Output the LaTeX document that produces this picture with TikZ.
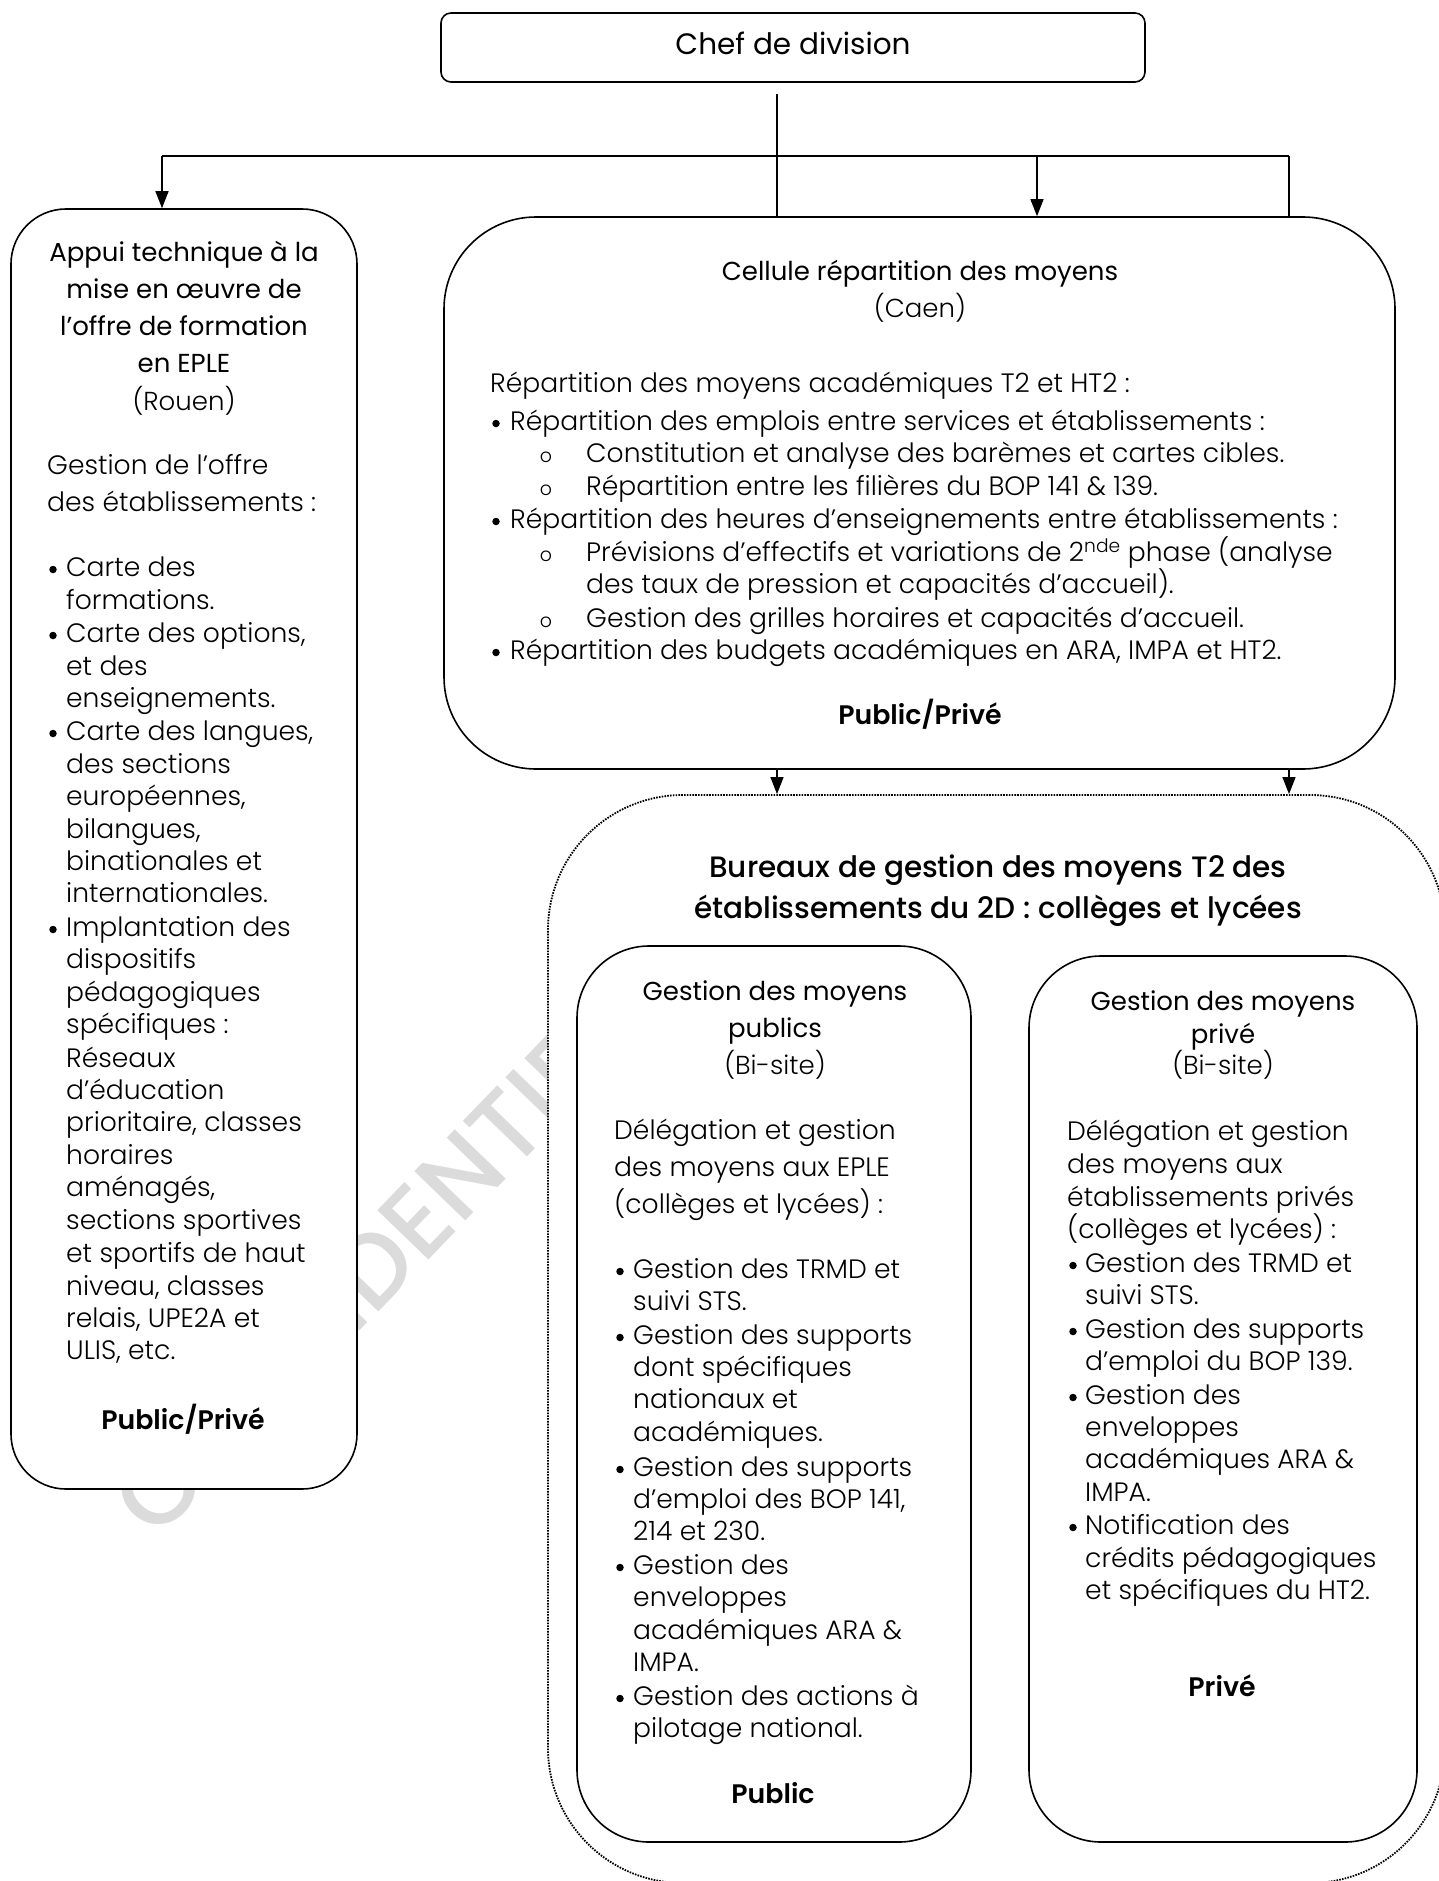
\documentclass[tikz,border=0pt]{standalone}
\usepackage{fontspec}
\setmainfont{Poppins}
\newfontfamily\flt{Poppins Light}
\newfontfamily\fmd{Poppins Medium}
\newfontfamily\fsbd{Poppins SemiBold}
\usetikzlibrary{arrows.meta}
\newcommand\fsz[1]{\fontsize{#1}{#1}\selectfont}
\tikzset{
  box/.style={draw, line width=1.6pt, fill=white, rounded corners=#1, inner sep=0pt},
  conn/.style={line width=1.3pt},
  arr/.style={line width=1.3pt, -{Triangle[length=17pt,width=13pt]}},
  hd/.style={inner sep=0pt, anchor=mid, font=\fsz{26}},
  sub/.style={inner sep=0pt, anchor=mid, font=\flt\fsz{26}},
  body/.style={inner sep=0pt, anchor=mid west, font=\flt\fsz{26.6}},
  bul/.style={circle, fill=black, inner sep=0pt, minimum size=7.5pt, yshift=4.5pt},
  obul/.style={inner sep=0pt, anchor=mid, font=\flt\fsz{19}},
  lbl/.style={inner sep=0pt, anchor=mid, font=\fsbd\fsz{26.8}},
}
\begin{document}
\begin{tikzpicture}[x=1pt,y=-1pt]
\useasboundingbox (0,0) rectangle (1439,1881);
% watermark
\node[inner sep=0pt, rotate=46, text=black!14, font=\fmd\fsz{102}] (wm) at (372,1267) {CONFIDENTIEL};
% boxes
\node[box=10, minimum width=704pt, minimum height=69pt] (chef) at (793,47.5) {};
\node[box=55, minimum width=346pt, minimum height=1280pt] (appui) at (184,849) {};
\node[box=92, minimum width=951pt, minimum height=552pt] (cell) at (919.5,493) {};
\node[draw, fill=white, line width=1.8pt, dash pattern=on 1.6pt off 1.2pt, rounded corners=135, inner sep=0pt, minimum width=897pt, minimum height=1088pt] (bur) at (996.5,1339) {};
\node[box=72, minimum width=394pt, minimum height=896pt] (pub) at (774,1394) {};
\node[box=72, minimum width=388pt, minimum height=886pt] (priv) at (1223,1399) {};
% connectors
\coordinate (c0) at (777,94);
\coordinate (hl) at (162,156);
\coordinate (hm) at (1037,156);
\coordinate (hr) at (1289,156);
\draw[conn] (c0) -- (c0 |- cell.north);
\draw[line width=2pt] (hl) -- (hr);
\draw[arr] (hl) -- (hl |- appui.north);
\draw[arr] (hm) -- (hm |- cell.north);
\draw[conn] (hr) -- (hr |- cell.north);
\draw[arr] (cell.south -| c0) -- (bur.north -| c0);
\draw[arr] (cell.south -| hr) -- (bur.north -| hr);
\begin{scope}[yshift=-7pt]
% chef
\node[hd, font=\fsz{29.5}] (chefT) at (793,45) {Chef de division};
% appui box
\foreach \y/\t [count=\i] in {252/Appui technique à la, 289/mise en œuvre de, 326/l’offre de formation, 363/en EPLE}
  \node[hd] (aH\i) at (184,\y) {\t};
\node[sub] (aS) at (184,401) {(Rouen)};
\node[body] (aI1) at (47,465) {Gestion de l’offre};
\node[body] (aI2) at (47,502) {des établissements :};
\foreach \y [count=\i] in {567,633,731,927}
  \node[bul] (aB\i) at (53,\y) {};
\foreach \y/\t [count=\i] in {567/Carte des, 600/formations., 633/{Carte des options,}, 666/et des, 698/enseignements., 731/{Carte des langues,}, 764/des sections, 796/{européennes,}, 829/{bilangues,}, 861/binationales et, 893/internationales., 927/Implantation des, 959/dispositifs, 992/pédagogiques, 1024/spécifiques :, 1058/Réseaux, 1090/d’éducation, 1122/{prioritaire, classes}, 1155/horaires, 1187/{aménagés,}, 1220/sections sportives, 1253/et sportifs de haut, 1286/{niveau, classes}, 1318/{relais, UPE2A et}, 1350/{ULIS, etc.}}
  \node[body] (aL\i) at (66,\y) {\t};
\node[lbl] (aP) at (183,1420) {Public/Privé};
% cellule
\node[hd] (cH) at (920,271) {Cellule répartition des moyens};
\node[sub] (cS) at (920,308) {(Caen)};
\node[body] (cI) at (490,383) {Répartition des moyens académiques T2 et HT2 :};
\foreach \y [count=\i] in {421,519,650}
  \node[bul] (cB\i) at (496,\y) {};
\foreach \y [count=\i] in {453,486,552,618}
  \node[obul] (cO\i) at (546,\y) {o};
\node[body] (cL1) at (510,421) {Répartition des emplois entre services et établissements :};
\node[body] (cL2) at (586,453) {Constitution et analyse des barèmes et cartes cibles.};
\node[body] (cL3) at (586,486) {Répartition entre les filières du BOP 141 \& 139.};
\node[body] (cL4) at (510,519) {Répartition des heures d’enseignements entre établissements :};
\node[body] (cL5) at (586,552) {Prévisions d’effectifs et variations de 2\textsuperscript{nde} phase (analyse};
\node[body] (cL6) at (586,584) {des taux de pression et capacités d’accueil).};
\node[body] (cL7) at (586,618) {Gestion des grilles horaires et capacités d’accueil.};
\node[body] (cL8) at (510,650) {Répartition des budgets académiques en ARA, IMPA et HT2.};
\node[lbl] (cP) at (920,715) {Public/Privé};
% bureaux title
\node[hd, font=\fmd\fsz{29.5}] (bT1) at (998,868) {Bureaux de gestion des moyens T2 des};
\node[hd, font=\fmd\fsz{29.5}] (bT2) at (998,909) {établissements du 2D : collèges et lycées};
% public box
\node[hd] (pH1) at (775,991) {Gestion des moyens};
\node[hd] (pH2) at (775,1028) {publics};
\node[sub] (pS) at (775,1065) {(Bi-site)};
\foreach \y/\t [count=\i] in {1130/Délégation et gestion, 1167/des moyens aux EPLE, 1204/(collèges et lycées) :}
  \node[body] (pI\i) at (614,\y) {\t};
\foreach \y [count=\i] in {1269,1335,1467,1565,1696}
  \node[bul] (pB\i) at (620,\y) {};
\foreach \y/\t [count=\i] in {1269/Gestion des TRMD et, 1301/suivi STS., 1335/Gestion des supports, 1367/dont spécifiques, 1399/nationaux et, 1432/académiques., 1467/Gestion des supports, 1499/{d’emploi des BOP 141,}, 1531/214 et 230., 1565/Gestion des, 1597/enveloppes, 1630/académiques ARA \&, 1662/IMPA., 1696/Gestion des actions à, 1728/pilotage national.}
  \node[body] (pL\i) at (633,\y) {\t};
\node[lbl] (pP) at (773,1794) {Public};
% prive box
\node[hd] (vH1) at (1223,1001) {Gestion des moyens};
\node[hd] (vH2) at (1223,1034) {privé};
\node[sub] (vS) at (1223,1065) {(Bi-site)};
\foreach \y/\t [count=\i] in {1131/Délégation et gestion, 1164/des moyens aux, 1197/établissements privés, 1229/(collèges et lycées) :}
  \node[body] (vI\i) at (1067,\y) {\t};
\foreach \y [count=\i] in {1263,1329,1395,1525}
  \node[bul] (vB\i) at (1073,\y) {};
\foreach \y/\t [count=\i] in {1263/Gestion des TRMD et, 1295/suivi STS., 1329/Gestion des supports, 1361/d’emploi du BOP 139., 1395/Gestion des, 1427/enveloppes, 1459/académiques ARA \&, 1492/IMPA., 1525/Notification des, 1558/crédits pédagogiques, 1590/et spécifiques du HT2.}
  \node[body] (vL\i) at (1085,\y) {\t};
\node[lbl] (vP) at (1222,1687) {Privé};
\end{scope}
\end{tikzpicture}
\end{document}
